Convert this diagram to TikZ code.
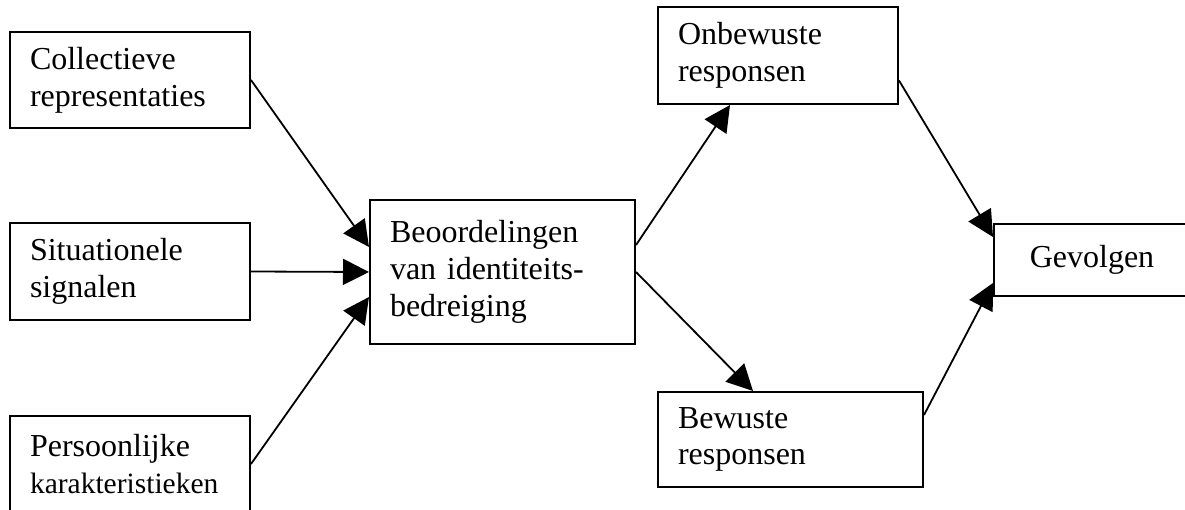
\documentclass[tikz,border=0pt]{standalone}
\usepackage{fontspec}
\setmainfont{Liberation Serif}
\usetikzlibrary{arrows.meta}
\usetikzlibrary{positioning}
\tikzset{
  factor/.style={draw, line width=2pt, align=left, inner xsep=20pt,
    font=\fontsize{32}{36.7}\selectfont},
  flow/.style={line width=1.8pt, -{Triangle[length=26pt, width=26pt]}}
}

\begin{document}
\begin{tikzpicture}[x=1pt, y=-1pt]
  \useasboundingbox (0,0) rectangle (1185,510);

  % sources
  \node [factor, text width=200pt, minimum height=96pt] (coll) at (130,80)
    {Collectieve\\representaties};
  \node [factor, text width=200pt, minimum height=97pt] (sit) at (130,271.5)
    {Situationele\\signalen};
  \node [factor, text width=200pt, minimum height=96pt] (pers) at (130,464)
    {Persoonlijke\\\fontsize{29.5}{30}\selectfont karakteristieken};

  % appraisal
  \node [factor, text width=225pt, minimum height=144pt] (beo) at (502.5,272)
    {Beoordelingen\\van identiteits-\\bedreiging};

  % responses
  \node [factor, text width=200pt, minimum height=97pt] (onb) at (778,55.5)
    {Onbewuste\\responsen};
  \node [factor, text width=225pt, minimum height=95pt] (bew) at (790.5,439.5)
    {Bewuste\\responsen};

  % outcome
  \node [factor, align=center, text width=156pt, minimum height=72pt] (gev) at (1092,260)
    {Gevolgen};

  \draw [flow] (coll.east) -- ([yshift=25pt]beo.west);
  \draw [flow] (sit.east) -- (beo.west);
  \draw [flow] (pers.east) -- ([yshift=-25pt]beo.west);

  \draw [flow] ([yshift=27pt]beo.east) -- ([xshift=-48pt]onb.south);
  \draw [flow] (beo.east) -- ([xshift=-37.5pt]bew.north);

  \draw [flow] ([yshift=-25pt]onb.east) -- ([yshift=23pt]gev.west);
  \draw [flow] ([yshift=24.5pt]bew.east) -- ([yshift=-23pt]gev.west);
\end{tikzpicture}
\end{document}
